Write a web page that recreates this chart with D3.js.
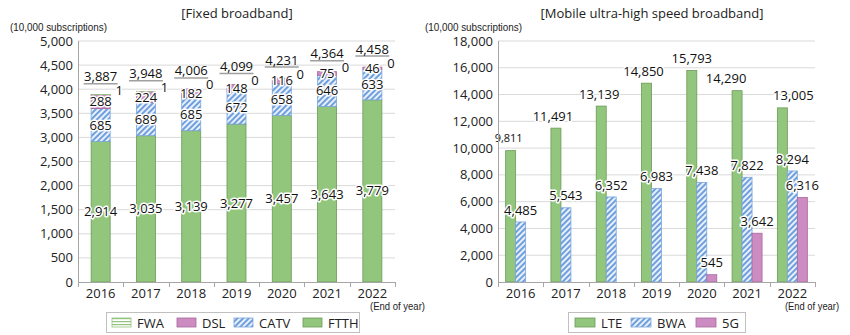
<!DOCTYPE html>
<html><head><meta charset="utf-8">
<script src="https://cdn.jsdelivr.net/npm/d3@7/dist/d3.min.js"></script>
<style>
body{margin:0;background:#fff;}
svg{display:block;font-family:"Open Sans","Noto Sans",sans-serif;}
</style></head>
<body><svg id="c" width="850" height="335"></svg>
<script>
// ---- data ----
const years = ["2016","2017","2018","2019","2020","2021","2022"];
const ftth = [2914,3035,3139,3277,3457,3643,3779];
const catv = [685,689,685,672,658,646,633];
const dsl  = [288,224,182,148,116,75,46];
const fwa  = [1,1,0,0,0,0,0];
const fixedTotals = [3887,3948,4006,4099,4231,4364,4458];
const fixedTicks = [0,500,1000,1500,2000,2500,3000,3500,4000,4500,5000];

const lte = [9811,11491,13139,14850,15793,14290,13005];
const bwa = [4485,5543,6352,6983,7438,7822,8294];
const g5  = [null,null,null,null,545,3642,6316];
const mobileTicks = [0,2000,4000,6000,8000,10000,12000,14000,16000,18000];
// label nudges for LTE value labels (px)
const lteLabelDx = [-2,-3,-2,-3,0,-11,11];

const fmt = d3.format(",");
const svg = d3.select("#c");
const defs = svg.append("defs");

// patterns
const pc = defs.append("pattern").attr("id","catv").attr("patternUnits","userSpaceOnUse")
  .attr("width",4).attr("height",4).attr("patternTransform","rotate(45)");
pc.append("rect").attr("width",4).attr("height",4).attr("fill","#e8f0fb");
pc.append("rect").attr("width",2).attr("height",4).attr("fill","#6f9fdc");
const pf = defs.append("pattern").attr("id","fwa").attr("patternUnits","userSpaceOnUse")
  .attr("width",4).attr("height",3);
pf.append("rect").attr("width",4).attr("height",3).attr("fill","#ffffff");
pf.append("rect").attr("width",4).attr("height",1.2).attr("fill","#93c47d");

const C = {
  green:"#93c67d", greenS:"#6b9a58",
  pink:"#cc8cc2", pinkS:"#a8679e",
  blueS:"#7aa6dc"
};

function halo(sel){
  return sel.attr("stroke","#fff").attr("stroke-width",3).attr("paint-order","stroke")
    .attr("stroke-linejoin","round");
}

function frame(g, x, y, ticks, x0, x1, fmtTick){
  g.append("g").selectAll("line").data(ticks.filter(t=>t>0)).join("line")
    .attr("x1",x0).attr("x2",x1).attr("y1",d=>y(d)).attr("y2",d=>y(d))
    .attr("stroke","#d9d9d9").attr("stroke-width",1);
  g.append("g").selectAll("text").data(ticks).join("text")
    .attr("x",x0-5).attr("y",d=>y(d)).attr("dy","0.35em").attr("text-anchor","end")
    .attr("font-size",13).attr("fill","#222").text(d=>fmtTick(d));
}

function axes(g, x, y, x0, x1){
  const y0 = y(0);
  g.append("line").attr("x1",x0+0.5).attr("x2",x0+0.5).attr("y1",y.range()[1]).attr("y2",y0)
    .attr("stroke","#a6a6a6");
  g.append("line").attr("x1",x0).attr("x2",x1).attr("y1",y0+0.5).attr("y2",y0+0.5)
    .attr("stroke","#a6a6a6");
  const step = x.step();
  const bounds = d3.range(years.length+1).map(i=>x0 + i*step);
  g.append("g").selectAll("line").data(bounds).join("line")
    .attr("x1",d=>Math.round(d)+0.5).attr("x2",d=>Math.round(d)+0.5)
    .attr("y1",y0).attr("y2",y0+5).attr("stroke","#a6a6a6");
  g.append("g").selectAll("text").data(years).join("text")
    .attr("x",d=>x(d)+x.bandwidth()/2).attr("y",y0+11).attr("dy","0.35em")
    .attr("text-anchor","middle").attr("font-size",13).attr("fill","#222").text(d=>d);
}

function narrowText(g, str, xx, yy, w, size, anchor){
  g.append("text").attr("x",xx).attr("y",yy).attr("font-size",size).attr("fill","#222")
    .attr("text-anchor",anchor||"start")
    .attr("font-family","'Liberation Sans Narrow','Liberation Sans',sans-serif")
    .attr("textLength",w).attr("lengthAdjust","spacingAndGlyphs").text(str);
}

// ================= LEFT: fixed broadband =================
{
  const L = svg.append("g");
  const x0 = 78, x1 = 395;
  const x = d3.scaleBand().domain(years).range([x0,x1]).paddingInner(0.58).paddingOuter(0.29);
  const y = d3.scaleLinear().domain([0,5000]).range([282,41]);
  frame(L, x, y, fixedTicks, x0, x1, fmt);

  L.append("text").attr("x",237).attr("y",13).attr("dy","0.35em").attr("text-anchor","middle")
    .attr("font-size",13).attr("fill","#222").text("[Fixed broadband]");
  narrowText(L,"(10,000 subscriptions)",10,31,97,11.5);

  const series = [
    {key:"FTTH", vals:ftth, fill:C.green, stroke:C.greenS},
    {key:"CATV", vals:catv, fill:"url(#catv)", stroke:C.blueS},
    {key:"DSL", vals:dsl, fill:C.pink, stroke:C.pinkS},
    {key:"FWA", vals:fwa, fill:"url(#fwa)", stroke:"#93c47d"}
  ];
  const rows = years.map((yr,i)=>({year:yr, FTTH:ftth[i], CATV:catv[i], DSL:dsl[i], FWA:fwa[i]}));
  const stack = d3.stack().keys(series.map(s=>s.key))(rows);
  stack.forEach((layer,li)=>{
    const s = series[li];
    L.append("g").selectAll("rect").data(layer).join("rect")
      .attr("x",d=>x(d.data.year)).attr("width",x.bandwidth())
      .attr("y",d=>y(d[1])).attr("height",d=>Math.max(0,y(d[0])-y(d[1])))
      .attr("fill",s.fill).attr("stroke",s.stroke).attr("stroke-width",0.8);
  });
  stack.slice(0,3).forEach((layer)=>{
    L.append("g").selectAll("text").data(layer).join("text")
      .attr("x",d=>x(d.data.year)+x.bandwidth()/2)
      .attr("y",d=>(y(d[0])+y(d[1]))/2).attr("dy","0.35em")
      .attr("text-anchor","middle").attr("font-size",13).attr("fill","#111")
      .call(halo).text(d=>fmt(d[1]-d[0]));
  });
  const tg = L.append("g");
  tg.selectAll("line").data(years).join("line")
    .attr("x1",d=>x(d)+x.bandwidth()/2-17).attr("x2",d=>x(d)+x.bandwidth()/2+17)
    .attr("y1",(d,i)=>y(fixedTotals[i])-11).attr("y2",(d,i)=>y(fixedTotals[i])-11)
    .attr("stroke","#a0a0a0").attr("stroke-width",1.5);
  tg.selectAll("text").data(years).join("text")
    .attr("x",d=>x(d)+x.bandwidth()/2).attr("y",(d,i)=>y(fixedTotals[i])-18).attr("dy","0.35em")
    .attr("text-anchor","middle").attr("font-size",13).attr("fill","#111")
    .text((d,i)=>fmt(fixedTotals[i]));
  L.append("g").selectAll("text").data(stack[3]).join("text")
    .attr("x",d=>x(d.data.year)+x.bandwidth()+9)
    .attr("y",d=>y(d[1])-4).attr("dy","0.35em")
    .attr("text-anchor","middle").attr("font-size",13).attr("fill","#111")
    .call(halo).text(d=>fmt(d.data.FWA));

  axes(L, x, y, x0, x1);
  narrowText(L,"(End of year)",370,310,55,11);

  L.append("rect").attr("x",106.5).attr("y",312.5).attr("width",253).attr("height",20)
    .attr("fill","#fff").attr("stroke","#c0c0c0");
  const leg = [
    {name:"FWA", fill:"url(#fwa)", stroke:"#93c47d", x:112},
    {name:"DSL", fill:C.pink, stroke:C.pinkS, x:177},
    {name:"CATV", fill:"url(#catv)", stroke:C.blueS, x:234},
    {name:"FTTH", fill:C.green, stroke:C.greenS, x:303}
  ];
  const lg = L.append("g").selectAll("g").data(leg).join("g");
  lg.append("rect").attr("x",d=>d.x).attr("y",318).attr("width",19).attr("height",9)
    .attr("fill",d=>d.fill).attr("stroke",d=>d.stroke).attr("stroke-width",0.8);
  lg.append("text").attr("x",d=>d.x+25).attr("y",323).attr("dy","0.35em")
    .attr("font-size",13).attr("fill","#222").text(d=>d.name);
}

// ================= RIGHT: mobile =================
{
  const R = svg.append("g");
  const x0 = 498, x1 = 815;
  const x = d3.scaleBand().domain(years).range([x0,x1]).paddingInner(0.338).paddingOuter(0.169);
  const sub = d3.scaleBand().domain(["LTE","BWA","5G"]).range([0,x.bandwidth()]);
  const y = d3.scaleLinear().domain([0,18000]).range([282,41]);
  frame(R, x, y, mobileTicks, x0, x1, fmt);

  R.append("text").attr("x",652).attr("y",13).attr("dy","0.35em").attr("text-anchor","middle")
    .attr("font-size",13).attr("fill","#222").text("[Mobile ultra-high speed broadband]");
  narrowText(R,"(10,000 subscriptions)",425,31,97,11.5);

  const series = [
    {key:"LTE", vals:lte, fill:C.green, stroke:C.greenS},
    {key:"BWA", vals:bwa, fill:"url(#catv)", stroke:C.blueS},
    {key:"5G", vals:g5, fill:C.pink, stroke:C.pinkS}
  ];
  series.forEach(s=>{
    const data = years.map((yr,i)=>({year:yr, v:s.vals[i], i})).filter(d=>d.v!=null);
    R.append("g").selectAll("rect").data(data).join("rect")
      .attr("x",d=>x(d.year)+sub(s.key)).attr("width",sub.bandwidth())
      .attr("y",d=>y(d.v)).attr("height",d=>y(0)-y(d.v))
      .attr("fill",s.fill).attr("stroke",s.stroke).attr("stroke-width",0.8);
  });
  series.forEach(s=>{
    const data = years.map((yr,i)=>({year:yr, v:s.vals[i], i})).filter(d=>d.v!=null);
    R.append("g").selectAll("text").data(data).join("text")
      .attr("x",d=>x(d.year)+sub(s.key)+sub.bandwidth()/2 + (s.key==="LTE"?lteLabelDx[d.i]:0))
      .attr("y",d=>y(d.v)-12).attr("dy","0.35em")
      .attr("text-anchor","middle")
      .attr("font-size",d=>(s.key==="LTE"&&d.i===0)?11:13)
      .attr("fill","#111").call(halo).text(d=>fmt(d.v));
  });

  axes(R, x, y, x0, x1);
  narrowText(R,"(End of year)",785,310,54,11);

  R.append("rect").attr("x",568.5).attr("y",312.5).attr("width",177).attr("height",20)
    .attr("fill","#fff").attr("stroke","#c0c0c0");
  const leg = [
    {name:"LTE", fill:C.green, stroke:C.greenS, x:575},
    {name:"BWA", fill:"url(#catv)", stroke:C.blueS, x:631},
    {name:"5G", fill:C.pink, stroke:C.pinkS, x:696}
  ];
  const lg = R.append("g").selectAll("g").data(leg).join("g");
  lg.append("rect").attr("x",d=>d.x).attr("y",318).attr("width",20).attr("height",9)
    .attr("fill",d=>d.fill).attr("stroke",d=>d.stroke).attr("stroke-width",0.8);
  lg.append("text").attr("x",d=>d.x+26).attr("y",323).attr("dy","0.35em")
    .attr("font-size",13).attr("fill","#222").text(d=>d.name);
}
</script></body></html>
